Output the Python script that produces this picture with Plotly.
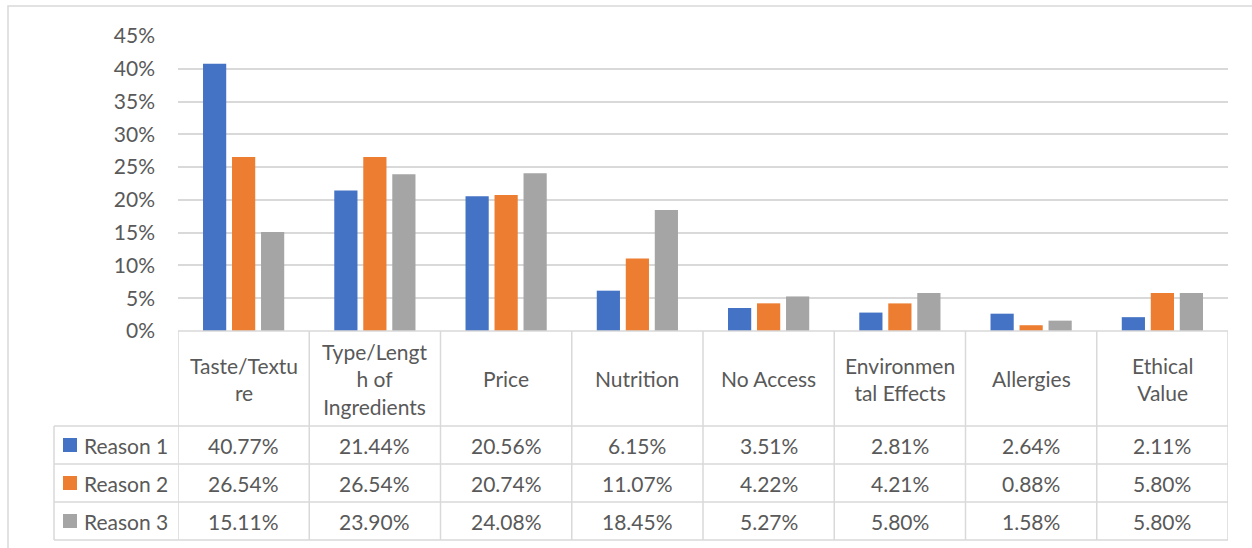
import plotly.graph_objects as go

# Reasons for choosing a product, share of respondents per ranking
categories = ["Taste/Texture", "Type/Length of Ingredients", "Price", "Nutrition",
              "No Access", "Environmental Effects", "Allergies", "Ethical Value"]
header_labels = ["Taste/Textu<br>re", "Type/Lengt<br>h of<br>Ingredients", "Price",
                 "Nutrition", "No Access", "Environmen<br>tal Effects", "Allergies",
                 "Ethical<br>Value"]
series_names = ["Reason 1", "Reason 2", "Reason 3"]
reason1 = [40.77, 21.44, 20.56, 6.15, 3.51, 2.81, 2.64, 2.11]
reason2 = [26.54, 26.54, 20.74, 11.07, 4.22, 4.21, 0.88, 5.80]
reason3 = [15.11, 23.90, 24.08, 18.45, 5.27, 5.80, 1.58, 5.80]
series_values = [reason1, reason2, reason3]
colors = ["#4472C4", "#ED7D31", "#A5A5A5"]

W, H = 1252, 548
FONT = "Lato"
FS = 21
TXT = "#595959"
GRID = "#D9D9D9"


def px(x):
    return x / W


def py(y):
    return 1 - y / H


# plot area and data-table geometry (pixels)
PL, PR = 178, 1228
P_TOP, P_BOT = 36, 331
TBL_LEFT = 54
ROW_LINES = [426, 464, 502, 540]

fig = go.Figure()
for name, vals, col in zip(series_names, series_values, colors):
    fig.add_trace(go.Bar(
        x=categories, y=[v / 100 for v in vals], name=name,
        marker=dict(color=col, line=dict(width=0)), showlegend=False,
    ))

shapes = []
# outer chart border
shapes.append(dict(type="rect", xref="paper", yref="paper",
                   x0=px(8), x1=px(W + 10), y0=py(H + 10), y1=py(6),
                   line=dict(color=GRID, width=1.5), layer="below"))
# top edge of table (category axis line)
shapes.append(dict(type="line", xref="paper", yref="paper",
                   x0=px(PL), x1=px(PR), y0=py(P_BOT), y1=py(P_BOT),
                   line=dict(color=GRID, width=1.5)))
# horizontal row lines
for ry in ROW_LINES:
    shapes.append(dict(type="line", xref="paper", yref="paper",
                       x0=px(TBL_LEFT), x1=px(PR), y0=py(ry), y1=py(ry),
                       line=dict(color=GRID, width=1.5)))
# vertical column lines at category boundaries
for i in range(len(categories) + 1):
    shapes.append(dict(type="line", xref="x", yref="paper",
                       x0=i - 0.5, x1=i - 0.5, y0=py(P_BOT), y1=py(ROW_LINES[-1]),
                       line=dict(color=GRID, width=1.5)))
# left edge of series-name column
shapes.append(dict(type="line", xref="paper", yref="paper",
                   x0=px(TBL_LEFT), x1=px(TBL_LEFT), y0=py(ROW_LINES[0]), y1=py(ROW_LINES[-1]),
                   line=dict(color=GRID, width=1.5)))

annotations = []
# category header cells
for cat, lab in zip(categories, header_labels):
    annotations.append(dict(x=cat, xref="x", y=py((P_BOT + ROW_LINES[0]) / 2), yref="paper",
                            text=lab, showarrow=False, xanchor="center", yanchor="middle",
                            font=dict(family=FONT, size=FS, color=TXT)))
# value rows with legend keys
for r, (name, vals, col) in enumerate(zip(series_names, series_values, colors)):
    yc = (ROW_LINES[r] + ROW_LINES[r + 1]) / 2
    shapes.append(dict(type="rect", xref="paper", yref="paper",
                       x0=px(63), x1=px(77), y0=py(yc + 7), y1=py(yc - 7),
                       fillcolor=col, line=dict(width=0)))
    annotations.append(dict(x=px(82), xref="paper", y=py(yc), yref="paper",
                            text=name, showarrow=False, xanchor="left", yanchor="middle",
                            font=dict(family=FONT, size=FS, color=TXT)))
    for cat, v in zip(categories, vals):
        annotations.append(dict(x=cat, xref="x", y=py(yc), yref="paper",
                                text=f"{v:.2f}%", showarrow=False,
                                xanchor="center", yanchor="middle",
                                font=dict(family=FONT, size=FS, color=TXT)))

fig.update_layout(
    width=W, height=H, autosize=False,
    margin=dict(l=0, r=0, t=0, b=0, pad=0, autoexpand=False),
    paper_bgcolor="white", plot_bgcolor="white",
    barmode="group", bargap=0.337, bargroupgap=0.2,
    xaxis=dict(domain=[px(PL), px(PR)], range=[-0.5, len(categories) - 0.5],
               showticklabels=False, showgrid=False, showline=False, zeroline=False,
               fixedrange=True, automargin=False),
    yaxis=dict(domain=[py(P_BOT), py(P_TOP)], range=[0, 0.45], dtick=0.05,
               tickformat=".0%", showgrid=True, gridcolor=GRID, gridwidth=1.5,
               zeroline=False, showline=False, ticklabelstandoff=22, automargin=False,
               tickfont=dict(family=FONT, size=FS, color=TXT)),
    shapes=shapes, annotations=annotations,
)

fig.write_html("out.html")
